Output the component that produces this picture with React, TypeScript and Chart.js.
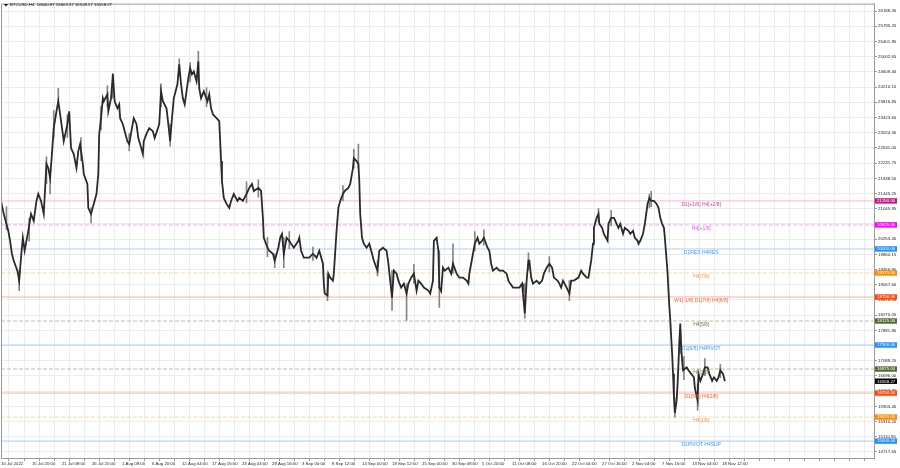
import React, { useEffect, useRef } from "react";
import { Chart, registerables } from "chart.js";

Chart.register(...registerables);

const FONT = '"Liberation Sans", "DejaVu Sans", Arial, sans-serif';

// ---- data (bar index on the H4 chart, close price) ----
const barIdx = [
  0, 3, 8, 10, 12, 14, 18, 20, 22, 24, 26, 30, 33, 36, 39, 41, 44, 47, 50, 52, 54, 56, 58, 61, 63, 65, 68, 69, 73, 75, 77, 80, 83, 85, 87, 90, 91, 95, 96, 99,
  102, 105, 107, 108, 110, 112, 113, 117, 118, 121, 123, 125, 128, 130, 131, 134, 136, 139, 141, 144, 146, 149, 151, 153, 156, 157, 160, 163,
  167, 169, 174, 176, 178, 182, 184, 186, 188, 190, 194, 196, 198, 200, 202, 206, 208, 210, 212, 215, 217, 218, 220, 223, 227, 229, 231, 233, 237, 240,
  241, 242, 243, 245, 248, 251, 253, 256, 260, 262, 266, 270, 273, 276, 278, 283, 286, 288, 289, 293, 295, 299, 301, 305, 307, 309, 311, 314, 317, 319, 322,
  327, 328, 330, 333, 339, 343, 347, 350, 354, 355, 356, 359, 360, 362, 365, 366, 369, 371, 373, 376, 378, 382, 384, 387, 388, 391, 393, 394, 395, 397, 399,
  402, 405, 408, 410, 414, 416, 420, 424, 426, 428, 430, 432, 435, 437, 440, 443, 446, 448, 451, 454, 457, 459, 462, 465, 470, 472, 475, 476, 479, 481, 482, 484,
  486, 488, 492, 495, 497, 501, 504, 508, 512, 514, 515, 517, 519, 521, 524, 526, 529, 531, 535, 537, 539, 541, 545, 548, 552, 556, 558, 560, 563, 567, 570,
  573, 574, 576, 578, 580, 581, 583, 585, 589, 592, 595, 597, 600, 603, 606, 608, 612, 614, 616, 618, 622, 625, 627, 630, 635, 638, 640, 644,
  646, 649, 651, 652, 655, 657, 658, 661, 663, 667, 668, 671, 674, 677, 679, 681, 684, 686, 690, 692, 695, 697, 700, 701, 703, 706, 708, 711, 713, 715, 718,
  721, 723, 725, 727, 729, 730, 732, 733, 734, 735, 736, 737, 738, 739, 740, 741, 743, 744, 745, 746, 747, 748, 749, 750, 751, 754, 756, 759, 762, 763, 766,
  767, 769, 772, 774, 777, 779, 782, 784, 787, 789, 791, 794, 796,
];
const closes = [
  21250, 20913, 20472, 20213, 19876, 19694, 19435, 19176, 19772, 20291, 19954, 20472, 20913, 20730, 21250, 21431, 21250, 20913, 22210, 22106, 21846, 22469, 23143, 23583, 23843, 23506, 22987, 22806, 23247, 23583, 22624, 22469, 22106, 22547, 22728, 22210, 21950, 21691, 21069, 20913,
  21172, 21431, 21950, 22987, 23402, 23921, 23843, 24024, 23583, 23921, 24543, 23843, 23661, 23765, 23402, 23247, 23065, 22806, 22728, 23143, 23402, 23247, 22884, 22728, 22469, 22806, 23000, 23143,
  23065, 22884, 23247, 24102, 23843, 23661, 23247, 22806, 23402, 23921, 24284, 24802, 24284, 23921, 23765, 24440, 24699, 24543, 24621, 24362, 24880, 24180, 23921, 24102, 23843, 24024, 23661, 23506, 23402, 23324,
  22806, 22287, 21769, 21328, 21172, 21069, 21250, 21431, 21250, 21328, 21250, 21431, 21587, 21691, 21509, 21587, 21509, 20810, 20291, 20032, 19954, 19876, 19694, 20032, 20291, 20394, 19876, 20291, 20213, 20136, 20032,
  20213, 20291, 19954, 19772, 19772, 19876, 19772, 19954, 19616, 19098, 18839, 18787, 19357, 19254, 19176, 19357, 20472, 21069, 21250, 21431, 21509, 21587, 21691, 22106, 22365, 22287, 22210, 21769, 20913, 20291, 20136,
  20032, 20136, 19876, 19694, 19435, 19954, 20032, 19954, 19616, 19176, 18735, 19435, 19357, 19176, 18994, 19098, 18839, 19098, 19254, 19357, 18916, 19176, 19098, 18994, 18916, 18839, 19176, 20213, 20291, 19954, 18994, 18900,
  19513, 19435, 19513, 19357, 19616, 19357, 19254, 19254, 19176, 19098, 19357, 19616, 19876, 20136, 20291, 20136, 20213, 20291, 20032, 19954, 19616, 19435, 19513, 19435, 19435, 19357, 19176, 19098, 18994, 18994, 18994,
  19098, 18839, 18320, 19176, 19694, 19694, 19254, 19098, 19176, 19098, 19176, 19357, 19513, 19616, 19513, 19254, 19176, 19098, 18994, 19176, 18994, 18839, 19176, 19176, 19254, 19435, 19357, 19254,
  19254, 19694, 20136, 20550, 20810, 20913, 20654, 20550, 20394, 20213, 20654, 20810, 20810, 20654, 20550, 20654, 20394, 20550, 20472, 20394, 20472, 20291, 20213, 20136, 20213, 20394, 20654, 21172, 21328, 21250, 21250,
  21172, 21069, 20810, 20654, 20550, 20291, 19694, 19357, 18916, 18476, 18140, 17697, 17283, 16750, 16130, 15730, 16064, 16490, 17023, 17620, 18061, 17438, 17101, 16842, 16842, 16920, 16842, 16750, 16660, 16380, 16064,
  16750, 16570, 16750, 16920, 16920, 16750, 16570, 16660, 16570, 16660, 16842, 16750, 16558.27,
];

// wicks (bar index, low, high)
const wickBars = [
  6, 20, 31, 50, 54, 58, 63, 73, 88, 99, 110, 117, 123, 141, 176, 186, 196, 208, 217, 226, 270, 283, 293, 301, 311, 317, 343, 359, 376, 388, 393,
  414, 430, 446, 454, 482, 497, 521, 531, 576, 580, 603, 625, 657, 671, 713, 715, 741, 747, 751, 766, 774, 791,
];
const wickLows = [
  20500, 18916, 20200, 21700, 21431, 22900, 23843, 22900, 22300, 20680, 23100, 23700, 23921, 22550, 23700, 22676, 24500, 24350, 24362, 23700, 21200, 21350, 19800, 19513, 19513, 20000, 19700, 18657, 21250, 22100, 22106,
  19300, 18398, 18140, 19100, 18476, 19357, 19950, 20100, 18190, 19450, 19400, 18657, 20700, 20600, 21069, 21100, 15620, 17283, 16600, 15805, 16700, 16650,
];
const wickHighs = [
  21100, 19435, 20800, 22400, 21950, 23600, 24180, 23500, 22900, 21069, 23700, 24250, 24569, 23000, 24300, 23247, 24950, 24850, 25140, 24200, 21750, 21800, 20300, 19876, 20291, 20450, 20050, 19357, 21650, 22600, 22728,
  19700, 19435, 19098, 19600, 19954, 20136, 20450, 20500, 19098, 19900, 19800, 19176, 21050, 21000, 21431, 21500, 16130, 17880, 17200, 16490, 17150, 17000,
];

// title OHLC
const symbolName = "BTCUSD,H4";
const lastOHLC = [16600.87, 16603.37, 16528.57, 16558.27];
const lastPrice = 16558.27;

// price axis ticks
const yTickValues = [
  26188.45, 25795.2, 25401.95, 25002.65, 24609.4, 24210.1, 23816.85, 23423.6, 23024.3, 22631.05, 22231.75, 21838.5, 21445.25, 21045.95, 20652.7,
  20253.4, 19860.15, 19466.9, 19067.6, 18674.35, 18275.05, 17881.8, 17488.55, 17089.25, 16696.0, 16302.75, 15903.45, 15510.2, 15110.9, 14717.65,
];

// time axis labels (every 33 bars)
const xTickLabels = [
  "10 Jul 2022", "15 Jul 20:00", "21 Jul 08:00", "26 Jul 20:00", "1 Aug 08:00", "6 Aug 20:00", "12 Aug 04:00", "17 Aug 16:00", "23 Aug 04:00",
  "28 Aug 16:00", "3 Sep 00:00", "8 Sep 12:00", "14 Sep 00:00", "19 Sep 12:00", "25 Sep 00:00", "30 Sep 08:00", "5 Oct 20:00", "11 Oct 08:00",
  "16 Oct 20:00", "22 Oct 04:00", "27 Oct 16:00", "2 Nov 04:00", "7 Nov 16:00", "13 Nov 04:00", "18 Nov 12:00",
];

// levels
const levelValues = [21250, 20625, 20000, 19375, 18750, 18125, 17500, 16875, 16250, 15625, 15000];
const levelNames = [
  "D1[+1/8] H4[+2/8]", "H4[+1/8]", "D1RES H4RES", "H4[7/8]", "W1[-1/8] D1[7/8] H4[6/8]", "H4[5/8]",
  "D1[6/8] H4PIVOT", "H4[3/8]", "D1[5/8] H4[2/8]", "H4[1/8]", "D1PIVOT H4SUP",
];
const levelDashed = [false, true, false, true, false, true, false, true, false, true, false];
const levelLineColors = ["#f4b8dc", "#f0a8f0", "#b0d2f4", "#fcd8a4", "#fdb0a0", "#bdbda8", "#a8ccf4", "#bdbda8", "#fdb0a0", "#fcd8a4", "#a8ccf4"];
const levelTextColors = ["#d0459c", "#e655e6", "#3d98f0", "#f0a040", "#f5643a", "#6d7a45", "#3d98f0", "#6d7a45", "#f5643a", "#f0a040", "#3d98f0"];
const levelBoxColors = ["#c71585", "#ff00ff", "#1e90ff", "#ff8c00", "#ff4500", "#556b2f", "#1e90ff", "#556b2f", "#ff4500", "#ff8c00", "#1e90ff"];

const X_MAX = 960;
const LABEL_BAR = 770;

export default function App() {
  const ref = useRef<HTMLCanvasElement | null>(null);

  useEffect(() => {
    document.body.style.margin = "0";
    const canvas = ref.current;
    if (!canvas) return;

    const xTicks: number[] = [0];
    for (let v = 17.5; v <= X_MAX; v += 16.5) xTicks.push(v);
    const xLabelMap = new Map<number, string>();
    xLabelMap.set(0, xTickLabels[0]);
    for (let i = 1; i < xTickLabels.length; i++) xLabelMap.set(34 + 33 * (i - 1), xTickLabels[i]);

    const levelDatasets = levelValues.map((v, i) => ({
      type: "line" as const,
      data: [{ x: 0, y: v }, { x: X_MAX, y: v }],
      borderColor: levelLineColors[i],
      borderWidth: 1,
      borderDash: levelDashed[i] ? [4, 2] : [],
      pointRadius: 0,
      order: 3,
    }));

    const framePlugin = {
      id: "mtFrame",
      afterDraw(chart: any) {
        const { ctx, chartArea, scales } = chart;
        const x = scales.x, y = scales.y;
        ctx.save();
        // level labels
        ctx.font = `5px ${FONT}`;
        ctx.textAlign = "center";
        ctx.textBaseline = "middle";
        levelValues.forEach((v, i) => {
          ctx.fillStyle = levelTextColors[i];
          ctx.fillText(levelNames[i], x.getPixelForValue(LABEL_BAR), y.getPixelForValue(v) + 4);
        });
        // price boxes on the right axis
        const boxes = levelValues.map((v, i) => ({ v, c: levelBoxColors[i] }));
        boxes.push({ v: lastPrice, c: "#000000" });
        ctx.font = `4.4px ${FONT}`;
        ctx.textAlign = "left";
        boxes.forEach((b) => {
          const py = y.getPixelForValue(b.v);
          ctx.fillStyle = b.c;
          ctx.fillRect(chartArea.right + 1, py - 2.7, 22, 5.4);
          ctx.fillStyle = "#ffffff";
          ctx.fillText(b.v.toFixed(2), chartArea.right + 3, py + 0.2);
        });
        // frame left/top
        ctx.strokeStyle = "#9a9a9a";
        ctx.lineWidth = 1;
        ctx.beginPath();
        ctx.moveTo(chartArea.left + 0.5, chartArea.bottom);
        ctx.lineTo(chartArea.left + 0.5, chartArea.top + 0.5);
        ctx.lineTo(chartArea.right, chartArea.top + 0.5);
        ctx.stroke();
        // title
        ctx.fillStyle = "#000";
        ctx.beginPath();
        ctx.moveTo(4, 4);
        ctx.lineTo(8, 4);
        ctx.lineTo(6, 6.5);
        ctx.closePath();
        ctx.fill();
        ctx.font = `4.3px ${FONT}`;
        ctx.textAlign = "left";
        ctx.textBaseline = "middle";
        ctx.fillText(`${symbolName}  ${lastOHLC.map((n) => n.toFixed(2)).join(" ")}`, 10, 5);
        ctx.restore();
      },
    };

    const chart = new Chart(canvas, {
      type: "bar",
      data: {
        datasets: [
          {
            type: "line",
            data: barIdx.map((b, i) => ({ x: b, y: closes[i] })),
            borderColor: "#2a2a2a",
            borderWidth: 1.8,
            pointRadius: 0,
            tension: 0,
            order: 1,
          } as any,
          {
            type: "bar",
            data: wickBars.map((b, i) => ({ x: b, y: [wickLows[i], wickHighs[i]] })),
            backgroundColor: "#858585",
            barThickness: 1,
            grouped: false,
            order: 2,
          } as any,
          ...(levelDatasets as any[]),
        ],
      },
      options: {
        animation: false,
        responsive: false,
        maintainAspectRatio: false,
        events: [],
        layout: { padding: { left: 1, top: 1, right: 0, bottom: 0 } },
        plugins: { legend: { display: false }, tooltip: { enabled: false } },
        scales: {
          x: {
            type: "linear",
            min: 0,
            max: X_MAX,
            offset: false,
            grid: { color: "#ececec", lineWidth: 1, tickLength: 3, tickColor: "#9a9a9a" },
            border: { display: true, color: "#9a9a9a" },
            afterBuildTicks: (s: any) => {
              s.ticks = xTicks.map((v) => ({ value: v }));
            },
            afterFit: (s: any) => {
              s.height = 10;
            },
            ticks: {
              autoSkip: false,
              maxRotation: 0,
              minRotation: 0,
              align: "start",
              padding: 0,
              color: "#222",
              font: { size: 4.3, family: FONT },
              callback: (v: any) => xLabelMap.get(Number(v)) ?? "",
            },
          },
          y: {
            position: "right",
            min: 14560,
            max: 26384,
            grid: { color: "#ececec", lineWidth: 1, tickLength: 3, tickColor: "#9a9a9a" },
            border: { display: true, color: "#9a9a9a" },
            afterBuildTicks: (s: any) => {
              s.ticks = yTickValues.map((v) => ({ value: v }));
            },
            afterFit: (s: any) => {
              s.width = 26;
            },
            ticks: {
              autoSkip: false,
              padding: 1,
              color: "#222",
              font: { size: 4.4, family: FONT },
              callback: (v: any) => Number(v).toFixed(2),
            },
          },
        },
      } as any,
      plugins: [framePlugin],
    });

    return () => chart.destroy();
  }, []);

  return (
    <div style={{ width: 900, height: 468, background: "#fff" }}>
      <canvas ref={ref} width={900} height={468} style={{ display: "block", width: 900, height: 468 }} />
    </div>
  );
}
